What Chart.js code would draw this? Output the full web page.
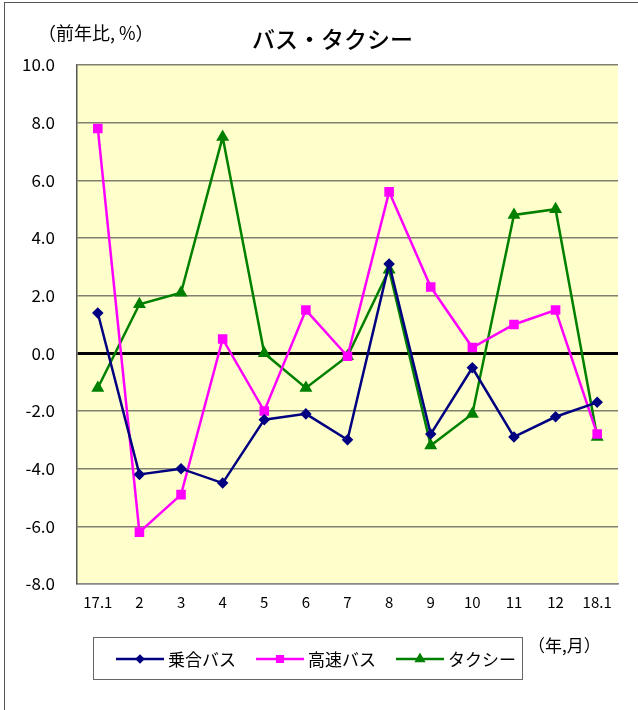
<!DOCTYPE html>
<html>
<head>
<meta charset="utf-8">
<script src="https://cdn.jsdelivr.net/npm/chart.js@4"></script>
<style>
  body { margin: 0; background: #fff; font-family: "Noto Sans CJK JP", sans-serif; }
  #wrap { position: relative; width: 638px; height: 710px; overflow: hidden; }
  #frame { position: absolute; left: 4px; top: 2px; width: 660px; height: 740px; border: 1px solid #555; }
  canvas#chart { position: absolute; left: 0; top: 0; }
  .txt { position: absolute; white-space: nowrap; color: #000; line-height: 1; }
  #legend { position: absolute; left: 93px; top: 637px; width: 428px; height: 41px; border: 1px solid #666; background: #fff; }
  .item { position: absolute; top: 0; height: 41px; display: flex; align-items: center; font-size: 17px; }
  .item canvas { margin-right: 4px; }
</style>
</head>
<body>
<div id="wrap">
  <div id="frame"></div>
  <canvas id="chart" width="638" height="710"></canvas>
  <div class="txt" style="left:38px; top:23px; font-size:18px;">（前年比, %）</div>
  <div class="txt" style="left:252px; top:27px; font-size:23px; font-weight:500;">バス・タクシー</div>
  <div class="txt" style="left:528px; top:636px; font-size:17px;">（年,月）</div>
  <div id="legend"></div>
</div>
<script>
// カテゴリ（年.月）
const months = ['17.1', '2', '3', '4', '5', '6', '7', '8', '9', '10', '11', '12', '18.1'];

// 前年比（%）
const noaiBus = [1.4, -4.2, -4.0, -4.5, -2.3, -2.1, -3.0, 3.1, -2.8, -0.5, -2.9, -2.2, -1.7];
const kousokuBus = [7.8, -6.2, -4.9, 0.5, -2.0, 1.5, -0.1, 5.6, 2.3, 0.2, 1.0, 1.5, -2.8];
const taxi = [-1.2, 1.7, 2.1, 7.5, 0.0, -1.2, -0.1, 2.9, -3.2, -2.1, 4.8, 5.0, -2.9];

const seriesNames = ['乗合バス', '高速バス', 'タクシー'];

// 目盛り
const yMin = -8;
const yMax = 10;
const yStep = 2;

// プロットエリアの背景
const plotBg = {
    id: 'plotBg',
    beforeDraw(chart) {
        const { ctx, chartArea: a } = chart;
        ctx.save();
        ctx.fillStyle = '#FFFFCC';
        ctx.fillRect(a.left, a.top, a.right - a.left, a.bottom - a.top);
        ctx.restore();
    }
};

const ctx = document.getElementById('chart').getContext('2d');
const chart = new Chart(ctx, {
    type: 'line',
    data: {
        labels: months,
        datasets: [
            {
                label: seriesNames[0],
                data: noaiBus,
                borderColor: '#000080',
                backgroundColor: '#000080',
                borderWidth: 2.5,
                pointStyle: 'rectRot',
                pointRadius: 4,
                tension: 0
            },
            {
                label: seriesNames[1],
                data: kousokuBus,
                borderColor: '#FF00FF',
                backgroundColor: '#FF00FF',
                borderWidth: 2.5,
                pointStyle: 'rect',
                pointRadius: 5,
                tension: 0
            },
            {
                label: seriesNames[2],
                data: taxi,
                borderColor: '#008000',
                backgroundColor: '#008000',
                borderWidth: 2.5,
                pointStyle: 'triangle',
                pointRadius: 5,
                tension: 0
            }
        ]
    },
    options: {
        responsive: false,
        animation: false,
        layout: { padding: { left: 0, right: 20, top: 65, bottom: 0 } },
        plugins: {
            legend: { display: false },
            title: { display: false },
            tooltip: { enabled: false }
        },
        scales: {
            x: {
                offset: true,
                grid: { display: false, drawTicks: false },
                border: { color: '#888', width: 1.5 },
                ticks: {
                    color: '#000',
                    padding: 9,
                    maxRotation: 0,
                    autoSkip: false,
                    font: { family: '"Noto Sans CJK JP", sans-serif', size: 15 }
                },
                afterFit(scale) { scale.height = 126; }
            },
            y: {
                min: yMin,
                max: yMax,
                grid: {
                    drawTicks: false,
                    color: (c) => c.tick.value === 0 ? '#000' : '#808070',
                    lineWidth: (c) => c.tick.value === 0 ? 3 : 1.5
                },
                border: { color: '#555', width: 1.5 },
                ticks: {
                    stepSize: yStep,
                    color: '#000',
                    padding: 22,
                    font: { family: '"Noto Sans CJK JP", sans-serif', size: 17 },
                    callback: (v) => v.toFixed(1)
                },
                afterFit(scale) { scale.width = 77; }
            }
        }
    },
    plugins: [plotBg]
});

// 凡例（線＋マーカー）
const legend = document.getElementById('legend');
const itemLeft = [22, 162, 302];
chart.data.datasets.forEach((ds, i) => {
    const item = document.createElement('div');
    item.className = 'item';
    item.style.left = itemLeft[i] + 'px';
    const c = document.createElement('canvas');
    c.width = 48;
    c.height = 14;
    const g = c.getContext('2d');
    g.strokeStyle = ds.borderColor;
    g.lineWidth = 2.5;
    g.beginPath();
    g.moveTo(0, 7);
    g.lineTo(48, 7);
    g.stroke();
    Chart.helpers.drawPoint(g, {
        pointStyle: ds.pointStyle,
        radius: ds.pointRadius - 1,
        borderWidth: 1,
        rotation: 0
    }, 24, 7);
    g.fillStyle = ds.backgroundColor;
    g.fill();
    item.appendChild(c);
    const t = document.createElement('span');
    t.textContent = ds.label;
    item.appendChild(t);
    legend.appendChild(item);
});
</script>
</body>
</html>
